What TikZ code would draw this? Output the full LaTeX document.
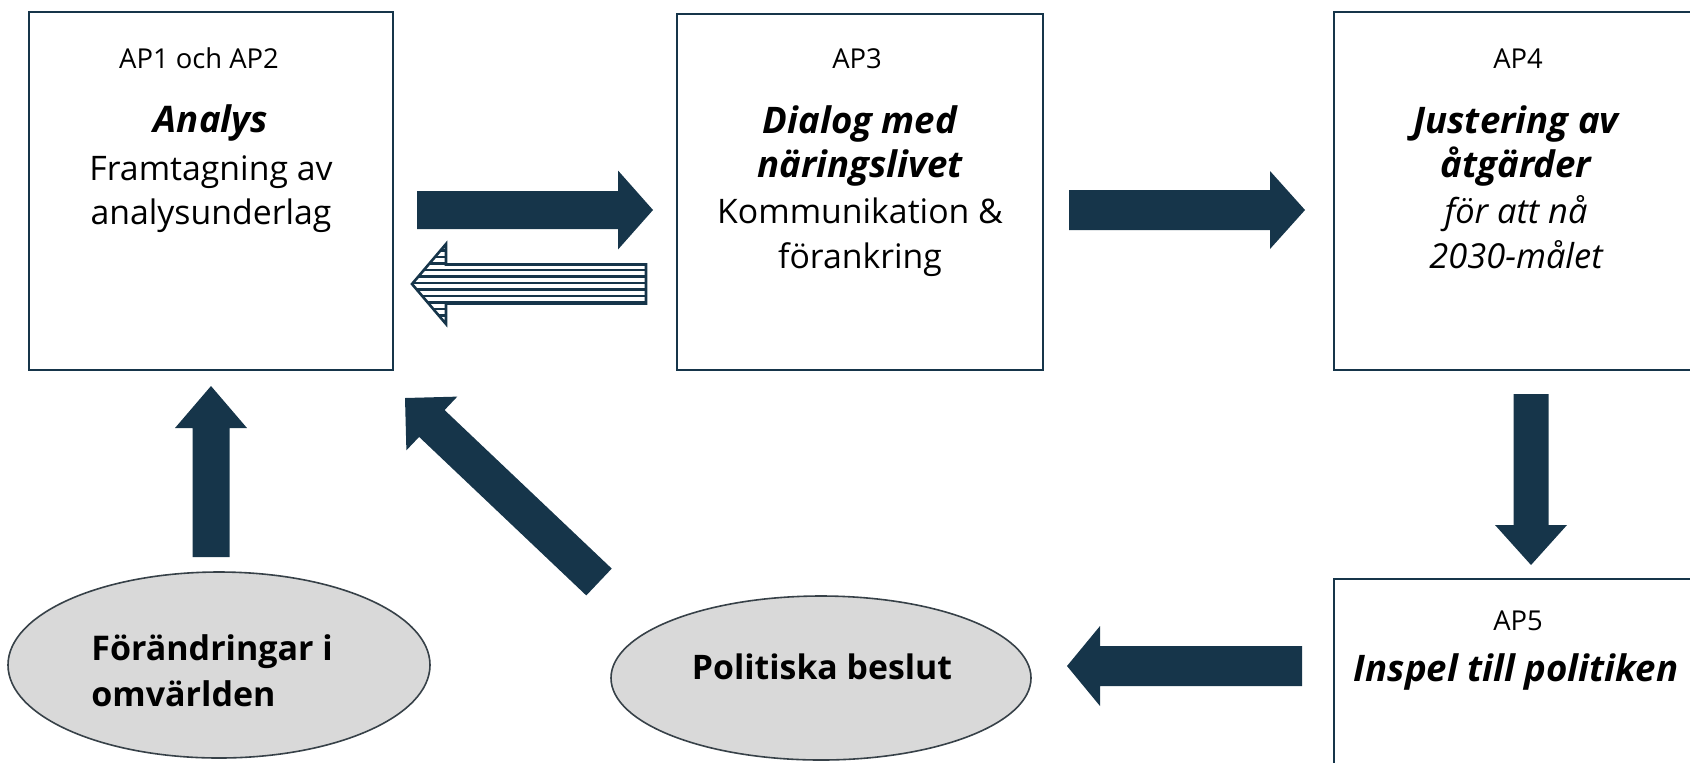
\documentclass[tikz,border=0pt]{standalone}
\usepackage{fontspec}
\setmainfont{Open Sans}
\usetikzlibrary{calc,shapes.geometric}
\definecolor{navy}{RGB}{22,53,74}
\definecolor{ellfill}{RGB}{217,217,217}
\definecolor{ellline}{RGB}{55,65,72}
% #1 tail, #2 tip, #3 neck coordinate, #4 half shaft, #5 half head
\newcommand{\arrowpath}[5]{($(#1)!#4!90:(#2)$) -- ($(#3)!#4!90:(#2)$) -- ($(#3)!#5!90:(#2)$) -- (#2) -- ($(#3)!#5!-90:(#2)$) -- ($(#3)!#4!-90:(#2)$) -- ($(#1)!#4!-90:(#2)$) -- cycle}
\begin{document}
\begin{tikzpicture}[x=0.5pt,y=-0.5pt,
  box/.style={draw=navy,line width=1.25pt,fill=white,inner sep=0pt},
  ell/.style={ellipse,draw=ellline,fill=ellfill,line width=0.8pt,inner sep=0pt},
  ln/.style={inner sep=0pt,anchor=base,font=\fontsize{16.9}{19}\selectfont},
  lnb/.style={ln,font=\fontsize{18.3}{21}\selectfont\bfseries\itshape},
  lni/.style={ln,font=\fontsize{17.2}{19}\selectfont\itshape},
  lnap/.style={ln,font=\fontsize{13.7}{16}\selectfont},
  lne/.style={inner sep=0pt,anchor=base west,font=\fontsize{17}{19}\selectfont\bfseries},
  blk/.style={fill=navy}]
\useasboundingbox (0,0) rectangle (1690,762);
% boxes
\node[box,minimum width=182pt,minimum height=179pt] (b1) at (211,191) {};
\node[box,minimum width=183pt,minimum height=178pt] (b2) at (860,192) {};
\node[box,minimum width=181pt,minimum height=179pt] (b3) at (1515,191) {};
\node[box,minimum width=181pt,minimum height=111pt] (b5) at (1515,690) {};
% ellipses
\node[ell,minimum width=211pt,minimum height=93pt] (e1) at (219,665) {};
\node[ell,minimum width=210pt,minimum height=82pt] (e2) at (821,678) {};
% box 1 text
\node[lnap] (t1a) at (199,68) {AP1 och AP2};
\node[lnb]  (t1b) at (211,132) {Analys};
\node[ln]   (t1c) at (211,180) {Framtagning av};
\node[ln]   (t1d) at (211,224) {analysunderlag};
% box 2 text
\node[lnap] (t2a) at (857,68) {AP3};
\node[lnb]  (t2b) at (860,133) {Dialog med};
\node[lnb]  (t2c) at (860,177) {näringslivet};
\node[ln]   (t2d) at (860,223) {Kommunikation \&};
\node[ln]   (t2e) at (860,268) {förankring};
% box 3 text
\node[lnap] (t3a) at (1518,68) {AP4};
\node[lnb]  (t3b) at (1516,133) {Justering av};
\node[lnb]  (t3c) at (1516,177) {åtgärder};
\node[lni]  (t3d) at (1516,223) {för att nå};
\node[lni]  (t3e) at (1516,268) {2030-målet};
% box 5 text
\node[lnap] (t5a) at (1518,630) {AP5};
\node[lnb]  (t5b) at (1516,681) {Inspel till politiken};
% ellipse text
\node[lne] (te1a) at (91,660) {Förändringar i};
\node[lne] (te1b) at (91,706) {omvärlden};
\node[ln,font=\fontsize{16.9}{19}\selectfont\bfseries] (te2) at (822,679) {Politiska beslut};
% arrow coordinates
\coordinate (a1t) at (417,210);  \coordinate (a1p) at (653,210);
\coordinate (a2t) at (1069,210); \coordinate (a2p) at (1305,210);
\coordinate (st)  at (646,284);  \coordinate (sp)  at (412,284);
\coordinate (dt)  at (1531,394); \coordinate (dp)  at (1531,565);
\coordinate (ut)  at (211,557);  \coordinate (up)  at (211,386);
\coordinate (lt)  at (1302,666); \coordinate (lp)  at (1067,666);
\coordinate (gt)  at (599,582);  \coordinate (gp)  at (405,398);
\coordinate (a1n) at ($(a1p)!17.5pt!(a1t)$);
\coordinate (a2n) at ($(a2p)!17.5pt!(a2t)$);
\coordinate (sn)  at ($(sp)!17pt!(st)$);
\coordinate (dn)  at ($(dp)!20pt!(dt)$);
\coordinate (un)  at ($(up)!21pt!(ut)$);
\coordinate (ln)  at ($(lp)!16.5pt!(lt)$);
\coordinate (gn)  at ($(gp)!18.5pt!(gt)$);
% solid block arrows
\fill[blk] \arrowpath{a1t}{a1p}{a1n}{9.5pt}{19.75pt};
\fill[blk] \arrowpath{a2t}{a2p}{a2n}{10pt}{19.5pt};
\fill[blk] \arrowpath{dt}{dp}{dn}{8.75pt}{18pt};
\fill[blk] \arrowpath{ut}{up}{un}{9.25pt}{18pt};
\fill[blk] \arrowpath{lt}{lp}{ln}{10pt}{20pt};
\fill[blk] \arrowpath{gt}{gp}{gn}{9.25pt}{18.5pt};
% striped arrow
\begin{scope}
\clip \arrowpath{st}{sp}{sn}{9.75pt}{20pt};
\fill[white] (400,240) rectangle (660,330);
\foreach \k in {0,...,13} {\draw[navy,line width=1.2pt] (400,{244+6.5*\k}) -- (660,{244+6.5*\k});}
\end{scope}
\draw[navy,line width=1.3pt,line join=miter] \arrowpath{st}{sp}{sn}{9.75pt}{20pt};
\end{tikzpicture}
\end{document}
